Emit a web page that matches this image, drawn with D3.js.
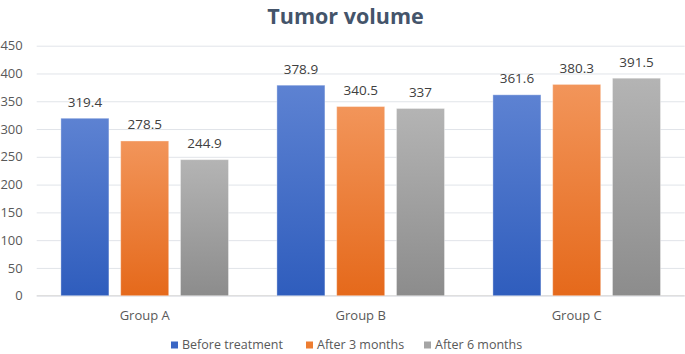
<!DOCTYPE html>
<html><head><meta charset="utf-8">
<script src="https://cdn.jsdelivr.net/npm/d3@7"></script>
<style>body{margin:0;background:#fff;} text{font-family:"Open Sans",sans-serif;}</style>
</head><body>
<svg id="c" width="685" height="354"></svg>
<script>
const categories = ["Group A", "Group B", "Group C"];
const seriesNames = ["Before treatment", "After 3 months", "After 6 months"];
const beforeTreatment = [319.4, 378.9, 361.6];
const after3Months = [278.5, 340.5, 380.3];
const after6Months = [244.9, 337, 391.5];
const yTicks = [0, 50, 100, 150, 200, 250, 300, 350, 400, 450];
const seriesValues = [beforeTreatment, after3Months, after6Months];

(function () {
const svg = d3.select("#c");
const colors = [["#5d82d2", "#2f5dbd"], ["#f2955a", "#e5691b"], ["#b4b4b4", "#8c8c8c"]];
const defs = svg.append("defs");
colors.forEach((c, i) => {
  const g = defs.append("linearGradient").attr("id", "g" + i).attr("x1", 0).attr("y1", 0).attr("x2", 0).attr("y2", 1);
  g.append("stop").attr("offset", "0%").attr("stop-color", c[0]);
  g.append("stop").attr("offset", "100%").attr("stop-color", c[1]);
});
const legendColors = ["#3a66c4", "#ed7d31", "#a5a5a5"];

const mLeft = 36.7, mRight = 684.7, mTop = 45.7, mBottom = 295.7;
const y = d3.scaleLinear().domain([0, 450]).range([mBottom, mTop]);
const x0 = d3.scaleBand().domain(categories).range([mLeft, mRight]).padding(0);
const x1 = d3.scaleBand().domain(seriesNames).range([24.2, 191.8]).paddingInner(0.197).paddingOuter(0);

svg.append("text").attr("x", 345.5).attr("y", 23.5).attr("text-anchor", "middle")
  .attr("font-size", 21.5).attr("font-weight", "bold").attr("fill", "#44546a").text("Tumor volume");

const yAxis = d3.axisLeft(y).tickValues(yTicks).tickSize(-(mRight - mLeft)).tickFormat(d3.format("d"));
const ga = svg.append("g").attr("transform", `translate(${mLeft},0)`).call(yAxis);
ga.select(".domain").remove();
ga.selectAll(".tick line").attr("stroke", "#e1e4e9").attr("stroke-width", 1);
ga.selectAll(".tick text").attr("x", -14).attr("font-size", 13).attr("fill", "#595959").attr("font-family", "Open Sans");

svg.append("line").attr("x1", mLeft).attr("x2", mRight).attr("y1", y(0)).attr("y2", y(0)).attr("stroke", "#d9d9d9");

const groups = svg.selectAll("g.grp").data(categories).enter().append("g").attr("class", "grp")
  .attr("transform", d => `translate(${x0(d)},0)`);
groups.each(function(cat, ci) {
  const g = d3.select(this);
  seriesNames.forEach((s, si) => {
    const v = seriesValues[si][ci];
    g.append("rect").attr("x", x1(s)).attr("width", x1.bandwidth())
      .attr("y", y(v)).attr("height", y(0) - y(v))
      .attr("fill", `url(#g${si})`).attr("stroke", "rgba(255,255,255,0.35)").attr("stroke-width", 1);
    g.append("text").attr("x", x1(s) + x1.bandwidth() / 2).attr("y", y(v) - 11.5)
      .attr("text-anchor", "middle").attr("font-size", 13.5).attr("fill", "#404040").text(v);
  });
});

svg.selectAll("text.cat").data(categories).enter().append("text").attr("class", "cat")
  .attr("x", d => x0(d) + x0.bandwidth() / 2).attr("y", 320).attr("text-anchor", "middle")
  .attr("font-size", 13).attr("fill", "#595959").text(d => d);

const legendX = [171, 306, 424];
seriesNames.forEach((s, i) => {
  svg.append("rect").attr("x", legendX[i]).attr("y", 341.5).attr("width", 7).attr("height", 7).attr("fill", legendColors[i]);
  svg.append("text").attr("x", legendX[i] + 11).attr("y", 349).attr("font-size", 12.5).attr("fill", "#595959").text(s);
});
})();
</script>
</body></html>
